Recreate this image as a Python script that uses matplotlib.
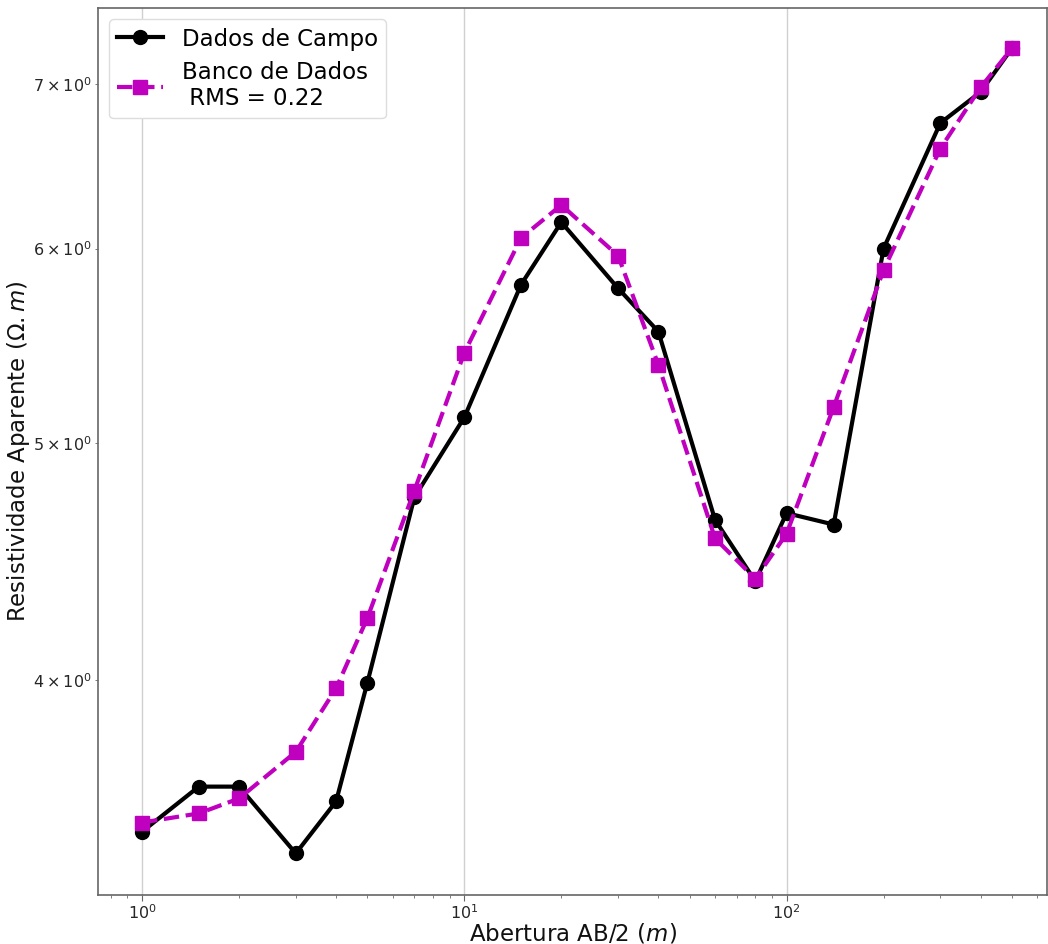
import matplotlib
matplotlib.use("Agg")
import matplotlib.pyplot as plt

ab2 = [1, 1.5, 2, 3, 4, 5, 7, 10, 15, 20, 30, 40, 60, 80, 100, 140, 200, 300, 400, 500]
campo = [3.47, 3.62, 3.62, 3.40, 3.57, 3.99, 4.75, 5.12, 5.80, 6.15, 5.78, 5.55,
         4.65, 4.39, 4.68, 4.63, 6.00, 6.75, 6.95, 7.24]
banco = [3.50, 3.53, 3.58, 3.74, 3.97, 4.24, 4.78, 5.44, 6.06, 6.25, 5.96, 5.38,
         4.57, 4.40, 4.59, 5.17, 5.88, 6.59, 6.98, 7.24]
rms = 0.22

fig = plt.figure(figsize=(10.48, 9.44), dpi=100)
ax = fig.add_axes([0.0935, 0.052, 0.906, 0.9395])

ax.plot(ab2, campo, color='k', marker='o', lw=3, ms=10, label='Dados de Campo', zorder=3)
ax.plot(ab2, banco, color='m', marker='s', ls='--', lw=3, ms=10,
        label='Banco de Dados\n RMS = %.2f' % rms, zorder=4)

ax.set_xscale('log')
ax.set_yscale('log')
ax.set_xlim(0.73, 645)
ax.set_ylim(3.27, 7.52)

ax.grid(True, which='major', axis='x', color='#d0d0d0', lw=1)
ax.set_axisbelow(True)
for s in ax.spines.values():
    s.set_color('#666666')
    s.set_linewidth(1.2)
ax.tick_params(axis='both', which='both', colors='#666666', labelcolor='#262626',
               labelsize=11.5, pad=2)
ax.tick_params(which='major', length=4)
ax.tick_params(which='minor', length=2.5)

ax.set_xlabel('Abertura AB/2 ($m$)', fontsize=16.5, color='#111111', labelpad=0)
ax.set_ylabel(r'Resistividade Aparente ($\Omega.m$)', fontsize=16.5, color='#111111', labelpad=1)

leg = ax.legend(loc='upper left', fontsize=16.5, framealpha=1, edgecolor='#dddddd',
                borderaxespad=0.5, handlelength=2.0, borderpad=0.35, labelspacing=0.45)

fig.savefig('out.png', dpi=100)
